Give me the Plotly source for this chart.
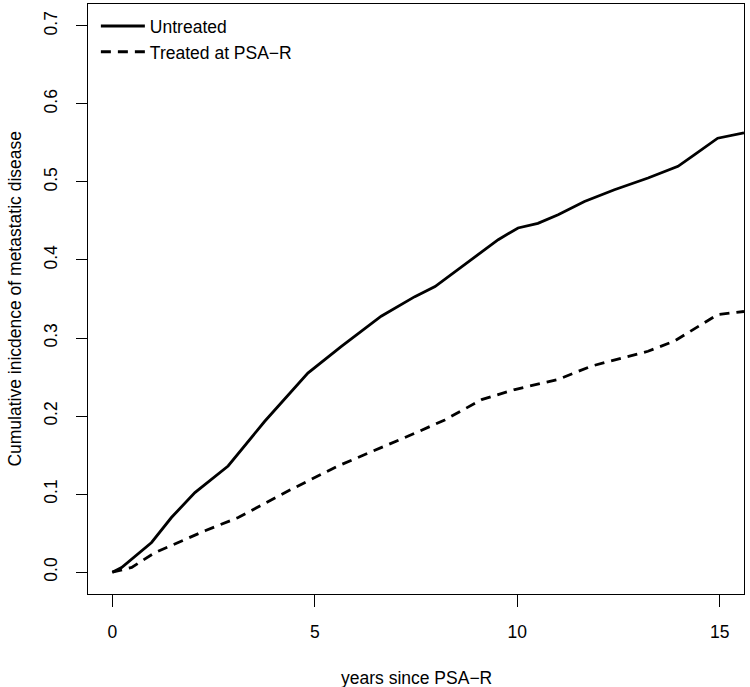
import plotly.graph_objects as go

# Data
untreated_years = [0.0, 0.23, 0.97, 1.46, 2.04, 2.86, 3.76, 4.83, 5.65, 6.64, 7.47, 7.97,
                   9.53, 10.02, 10.51, 11.01, 11.66, 12.40, 13.23, 13.97, 14.38, 14.95, 15.6]
untreated_cif = [0.0, 0.006, 0.038, 0.070, 0.102, 0.136, 0.193, 0.255, 0.289, 0.328, 0.353, 0.366,
                 0.426, 0.441, 0.447, 0.458, 0.475, 0.490, 0.505, 0.520, 0.535, 0.556, 0.563]

treated_years = [0.0, 0.48, 1.05, 2.29, 3.11, 4.34, 5.57, 6.81, 7.47, 8.21, 9.12, 9.94,
                 10.68, 11.01, 11.83, 13.23, 13.88, 14.46, 14.95, 15.6]
treated_cif = [0.0, 0.006, 0.025, 0.053, 0.070, 0.104, 0.136, 0.163, 0.178, 0.195, 0.221, 0.234,
               0.243, 0.247, 0.264, 0.283, 0.296, 0.315, 0.330, 0.334]

x_ticks = [0, 5, 10, 15]
y_ticks = [0.0, 0.1, 0.2, 0.3, 0.4, 0.5, 0.6, 0.7]
y_tick_labels = ["0.0", "0.1", "0.2", "0.3", "0.4", "0.5", "0.6", "0.7"]

x_title = "years since PSA−R"
y_title = "Cumulative inicdence of metastatic disease"

FONT = "Liberation Sans, Arial, Helvetica, sans-serif"
FS = 17.5

fig = go.Figure()
fig.add_trace(go.Scatter(x=untreated_years, y=untreated_cif, mode="lines", name="Untreated",
                         line=dict(color="black", width=2.8)))
fig.add_trace(go.Scatter(x=treated_years, y=treated_cif, mode="lines", name="Treated at PSA−R",
                         line=dict(color="black", width=2.8, dash="10px,7px")))

fig.update_layout(
    width=750, height=687,
    margin=dict(l=87.5, r=5.5, t=4, b=93, autoexpand=False),
    paper_bgcolor="white", plot_bgcolor="white",
    font=dict(family=FONT, size=FS, color="black"),
    showlegend=True,
    legend=dict(x=0.012, y=0.993, xanchor="left", yanchor="top", bgcolor="rgba(0,0,0,0)",
                font=dict(family=FONT, size=FS, color="black"), tracegroupgap=0,
                itemwidth=44),
    xaxis=dict(range=[-0.6, 15.6], tickvals=x_ticks, ticktext=[str(v) for v in x_ticks],
               showgrid=False, zeroline=False, showline=True, mirror=True, linecolor="black",
               linewidth=1.3, ticks="outside", ticklen=12, tickwidth=1.3, tickcolor="black",
               ticklabelstandoff=10),
    yaxis=dict(range=[-0.028, 0.728], tickvals=y_ticks, ticktext=y_tick_labels,
               showgrid=False, zeroline=False, showline=True, mirror=True, linecolor="black",
               linewidth=1.3, ticks="outside", ticklen=11, tickwidth=1.3, tickcolor="black",
               tickangle=-90, ticklabelstandoff=12),
    annotations=[
        dict(text=x_title, xref="paper", yref="paper", x=0.5, y=-0.142,
             xanchor="center", yanchor="middle", showarrow=False,
             font=dict(family=FONT, size=FS, color="black")),
        dict(text=y_title, xref="paper", yref="paper", x=-0.1119, y=0.5,
             xanchor="center", yanchor="middle", showarrow=False, textangle=-90,
             font=dict(family=FONT, size=FS, color="black")),
    ],
)

# remove the default 8px page margin so the figure sits at the window's top-left corner
fig.write_html("out.html", config={"displayModeBar": False},
               post_script="document.body.style.margin='0px';")
